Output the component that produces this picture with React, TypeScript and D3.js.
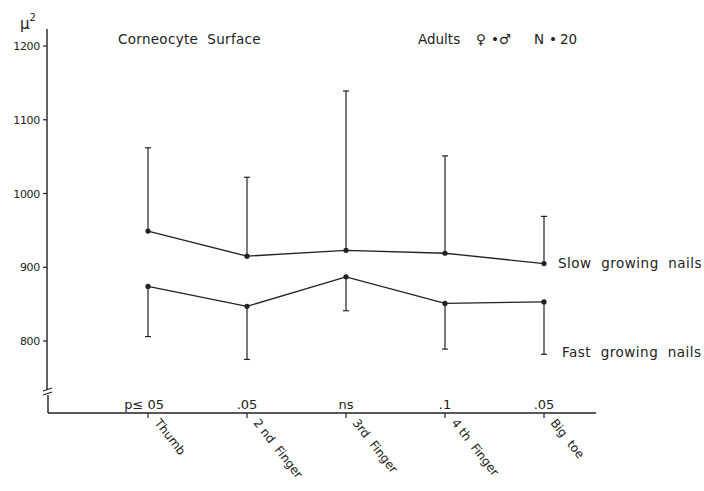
import React from "react";
import * as d3 from "d3";

const categories = ["Thumb", "2 nd  Finger", "3rd  Finger", "4 th  Finger", "Big  toe"];
const pValues = ["p≤ 05", ".05", "ns", ".1", ".05"];
const yTicks = [800, 900, 1000, 1100, 1200];
const slowMean = [949, 915, 923, 919, 905];
const slowUpper = [1062, 1022, 1139, 1051, 969];
const fastMean = [874, 847, 887, 851, 853];
const fastLower = [806, 775, 841, 789, 782];

const W = 704;
const H = 491;
const INK = "#222";
const FONT = "'DejaVu Sans', 'Noto Sans', sans-serif";

export default function App() {
  const x = d3.scalePoint<string>().domain(categories).range([148, 544]).padding(0);
  const y = d3.scaleLinear().domain([800, 1200]).range([341, 46]);
  const line = d3
    .line<number>()
    .x((_, i) => x(categories[i]) as number)
    .y((d) => y(d));

  const axisX = 48;
  const axisBottom = 413;
  const breakY = 392;

  return (
    <svg
      width={W}
      height={H}
      style={{ position: "absolute", left: 0, top: 0, background: "#fff" }}
      fontFamily={FONT}
    >
      {/* y axis */}
      <line x1={axisX - 1} y1={29} x2={axisX - 1} y2={breakY - 2} stroke={INK} strokeWidth={1.4} />
      <line x1={axisX} y1={breakY + 3} x2={axisX} y2={axisBottom} stroke={INK} strokeWidth={1.4} />
      <line x1={axisX - 5} y1={breakY - 1} x2={axisX + 4} y2={breakY - 4} stroke={INK} strokeWidth={1.1} />
      <line x1={axisX - 5} y1={breakY + 3} x2={axisX + 4} y2={breakY} stroke={INK} strokeWidth={1.1} />
      {yTicks.map((t) => (
        <g key={t}>
          <line x1={axisX - 5} y1={y(t)} x2={axisX - 1} y2={y(t)} stroke={INK} strokeWidth={1.2} />
          <text x={axisX - 8} y={y(t) + 4} textAnchor="end" fontSize={11} fill={INK} letterSpacing={-0.3}>
            {t}
          </text>
        </g>
      ))}
      <text x={20} y={29} fontSize={15} fill={INK}>
        μ<tspan fontSize={10} dy={-8}>2</tspan>
      </text>

      {/* x axis */}
      <line x1={axisX} y1={axisBottom} x2={596} y2={axisBottom} stroke={INK} strokeWidth={1.4} />
      {categories.map((c, i) => {
        const cx = x(c) as number;
        return (
          <g key={c}>
            <line x1={cx} y1={axisBottom} x2={cx} y2={axisBottom + 5} stroke={INK} strokeWidth={1.2} />
            <text
              x={i === 0 ? cx + 16 : cx}
              y={axisBottom - 4}
              textAnchor={i === 0 ? "end" : "middle"}
              fontSize={13}
              fill={INK}
            >
              {pValues[i]}
            </text>
            <text
              transform={`translate(${cx + 6},${axisBottom + 10}) rotate(52)`}
              fontSize={12}
              fill={INK}
              style={{ whiteSpace: "pre" }}
            >
              {c}
            </text>
          </g>
        );
      })}

      {/* error bars */}
      {categories.map((c, i) => {
        const cx = x(c) as number;
        return (
          <g key={"e" + c} stroke={INK} strokeWidth={1.2}>
            <line x1={cx} y1={y(slowMean[i])} x2={cx} y2={y(slowUpper[i])} />
            <line x1={cx - 3} y1={y(slowUpper[i])} x2={cx + 3} y2={y(slowUpper[i])} />
            <line x1={cx} y1={y(fastMean[i])} x2={cx} y2={y(fastLower[i])} />
            <line x1={cx - 3} y1={y(fastLower[i])} x2={cx + 3} y2={y(fastLower[i])} />
          </g>
        );
      })}

      {/* lines */}
      <path d={line(slowMean) || ""} fill="none" stroke={INK} strokeWidth={1.3} />
      <path d={line(fastMean) || ""} fill="none" stroke={INK} strokeWidth={1.3} />
      {categories.map((c, i) => (
        <g key={"p" + c} fill={INK}>
          <circle cx={x(c) as number} cy={y(slowMean[i])} r={2.6} />
          <circle cx={x(c) as number} cy={y(fastMean[i])} r={2.6} />
        </g>
      ))}

      {/* annotations */}
      <text x={118} y={44} fontSize={13.5} fill={INK} letterSpacing={0.3} style={{ whiteSpace: "pre" }}>
        Corneocyte  Surface
      </text>
      <text y={44} fontSize={13.5} fill={INK}>
        <tspan x={418}>Adults</tspan>
        <tspan x={476}>♀</tspan>
        <tspan x={491}>•</tspan>
        <tspan x={499}>♂</tspan>
        <tspan x={534}>N</tspan>
        <tspan x={549}>•</tspan>
        <tspan x={560}>20</tspan>
      </text>
      <text x={558} y={268} fontSize={13.5} fill={INK} letterSpacing={0.5} style={{ whiteSpace: "pre" }}>
        Slow  growing  nails
      </text>
      <text x={562} y={357} fontSize={13.5} fill={INK} letterSpacing={0.5} style={{ whiteSpace: "pre" }}>
        Fast  growing  nails
      </text>
    </svg>
  );
}
